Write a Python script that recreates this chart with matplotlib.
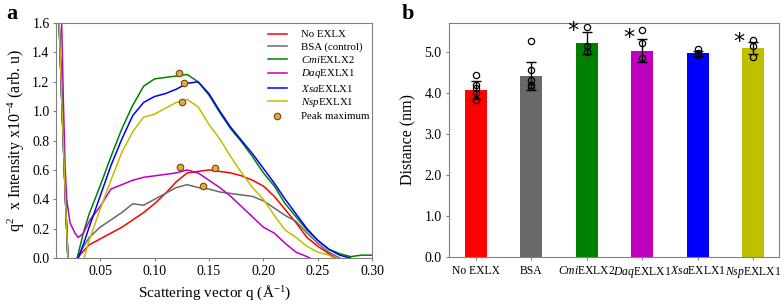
import matplotlib
matplotlib.use("Agg")
import matplotlib.pyplot as plt
import numpy as np

plt.rcParams['font.family'] = ['Liberation Serif', 'DejaVu Serif']
plt.rcParams['mathtext.fontset'] = 'custom'
plt.rcParams['mathtext.rm'] = 'Liberation Serif'
plt.rcParams['mathtext.it'] = 'Liberation Serif:italic'

# ---------------- Panel a data ----------------
q_left = [0.0100, 0.0125, 0.0150, 0.0180, 0.0205, 0.0240]
y_left = [3.0, 1.6, 1.05, 0.45, 0.0, -0.05]

q_main = [0.029, 0.035, 0.04, 0.05, 0.06, 0.07, 0.08, 0.09, 0.10, 0.11, 0.12, 0.13,
          0.14, 0.15, 0.16, 0.17, 0.18, 0.19, 0.20, 0.21, 0.22, 0.23, 0.24, 0.25,
          0.26, 0.27, 0.28, 0.29, 0.30]

red_y = [0.0, 0.05, 0.09, 0.13, 0.17, 0.21, 0.26, 0.31, 0.37, 0.44, 0.52, 0.58,
         0.59, 0.60, 0.59, 0.58, 0.56, 0.53, 0.49, 0.42, 0.33, 0.24, 0.14, 0.08,
         0.03, -0.02, -0.05, -0.05, -0.05]
gray_y = [0.0, 0.08, 0.14, 0.21, 0.26, 0.31, 0.37, 0.36, 0.40, 0.44, 0.48, 0.50,
          0.48, 0.47, 0.45, 0.44, 0.43, 0.42, 0.39, 0.34, 0.29, 0.25, 0.17, 0.10,
          0.04, 0.0, -0.05, -0.05, -0.05]
green_y = [0.0, 0.18, 0.30, 0.49, 0.69, 0.88, 1.04, 1.17, 1.22, 1.23, 1.24, 1.25,
           1.20, 1.11, 0.99, 0.88, 0.79, 0.69, 0.58, 0.49, 0.37, 0.28, 0.19, 0.12,
           0.06, 0.03, 0.01, 0.02, 0.02]
blue_y = [-0.02, 0.10, 0.21, 0.42, 0.63, 0.81, 0.97, 1.06, 1.10, 1.12, 1.15, 1.19,
          1.20, 1.12, 1.00, 0.89, 0.80, 0.71, 0.61, 0.51, 0.40, 0.30, 0.20, 0.12,
          0.06, 0.02, 0.0, -0.05, -0.05]
yellow_y = [-0.05, -0.01, 0.12, 0.33, 0.53, 0.72, 0.86, 0.96, 0.98, 1.02, 1.06, 1.08,
            1.03, 0.91, 0.81, 0.69, 0.58, 0.48, 0.40, 0.29, 0.19, 0.14, 0.08, 0.04,
            0.02, -0.02, -0.05, -0.05, -0.05]

q_daq = [0.0100, 0.0148, 0.0163, 0.0179, 0.0194, 0.0225, 0.027, 0.0300, 0.0347,
         0.0408, 0.05, 0.06, 0.07, 0.08, 0.09, 0.10, 0.11, 0.12, 0.13, 0.14, 0.15,
         0.16, 0.17, 0.18, 0.19, 0.20, 0.21, 0.22, 0.23, 0.24, 0.25, 0.26]
daq_y = [3.0, 1.6, 1.08, 0.63, 0.40, 0.24, 0.17, 0.14, 0.17, 0.26, 0.35, 0.47,
         0.50, 0.53, 0.55, 0.56, 0.57, 0.58, 0.60, 0.58, 0.53, 0.48, 0.42, 0.35,
         0.28, 0.21, 0.17, 0.10, 0.04, 0.01, -0.03, -0.05]

peak_q = [0.1226, 0.1273, 0.1250, 0.1235, 0.1555, 0.1442]
peak_y = [1.257, 1.193, 1.062, 0.619, 0.615, 0.493]

# ---------------- Panel b data ----------------
groups = ['No EXLX', 'BSA', r'$\mathit{Cmi}$EXLX2', r'$\mathit{Daq}$EXLX1',
          r'$\mathit{Xsa}$EXLX1', r'$\mathit{Nsp}$EXLX1']
means = [4.06, 4.41, 5.21, 5.03, 4.97, 5.09]
errs = [0.22, 0.35, 0.27, 0.29, 0.06, 0.14]
points = [[4.43, 4.20, 4.12, 4.00, 3.83],
          [5.27, 4.56, 4.32, 4.18, 4.13],
          [5.60, 5.13, 5.00],
          [5.54, 5.21, 4.85],
          [5.06, 4.96, 4.93],
          [5.28, 5.13, 4.88]]
signif = [False, False, True, True, False, True]

colors = ['#ff0000', '#696969', '#008000', '#bf00bf', '#0000ff', '#bfbf00']
legend_labels = ['No EXLX', 'BSA (control)', r'$\mathit{Cmi}$EXLX2',
                 r'$\mathit{Daq}$EXLX1', r'$\mathit{Xsa}$EXLX1', r'$\mathit{Nsp}$EXLX1']

fig = plt.figure(figsize=(7.84, 3.04), dpi=100)
axa = fig.add_axes([0.072, 0.151, 0.403, 0.773])
axb = fig.add_axes([0.573, 0.155, 0.421, 0.769])

frame_col = '#808080'

# Panel a
curves = [
    (q_left + q_main, y_left + red_y),
    (q_left + q_main, y_left + gray_y),
    (q_left + q_main, y_left + green_y),
    (q_daq, daq_y),
    (q_left + q_main, y_left + blue_y),
    (q_left + q_main, y_left + yellow_y),
]
for (qq, yy), c, lab in zip(curves, colors, legend_labels):
    axa.plot(qq, yy, color=c, lw=1.1, label=lab)
axa.scatter(peak_q, peak_y, s=22, color='#e8a838', edgecolor='#6b4a1a',
            linewidth=0.8, zorder=5, label='Peak maximum')
axa.set_xlim(0.010, 0.30)
axa.set_ylim(0, 1.6)
axa.set_xticks([0.05, 0.10, 0.15, 0.20, 0.25, 0.30])
axa.set_xticklabels(['%.2f' % v for v in [0.05, 0.10, 0.15, 0.20, 0.25, 0.30]])
axa.set_yticks(np.arange(0, 1.61, 0.2))
axa.set_yticklabels(['%.1f' % v for v in np.arange(0, 1.61, 0.2)])
axa.tick_params(labelsize=10, length=2, color=frame_col, pad=3)
for s in axa.spines.values():
    s.set_color(frame_col)
axa.set_xlabel(r'Scattering vector q ($\mathrm{\AA}^{-1}$)', fontsize=11, labelpad=4)
axa.set_ylabel(r'q$^2$  x Intensity x10$^{-4}$ (arb. u)', fontsize=11.5, labelpad=4)
axa.legend(loc='upper right', bbox_to_anchor=(1.0, 0.985), frameon=False,
           fontsize=7.8, handlelength=1.75, handletextpad=1.3, labelspacing=0.22,
           borderaxespad=0.0, borderpad=0.3)
fig.text(0.008, 0.955, 'a', fontsize=16, fontweight='bold', va='center')

# Panel b
x = np.arange(len(groups))
axb.bar(x, means, width=0.4, color=colors)
axb.errorbar(x, means, yerr=errs, fmt='none', ecolor='black', elinewidth=1,
             capsize=3.5, capthick=1)
for xi, pts in zip(x, points):
    axb.plot([xi] * len(pts), pts, 'o', mfc='none', mec='black', ms=4.5, mew=0.9)
for xi, m, e, sg in zip(x, means, errs, signif):
    if sg:
        axb.text(xi - 0.25, m + e + 0.02, '*', fontsize=16, ha='center', va='center',
                 family='DejaVu Sans')
axb.set_xlim(-0.48, 5.47)
axb.set_ylim(0, 5.7)
axb.set_xticks(x)
axb.set_xticklabels(groups)
axb.set_yticks(np.arange(0, 5.1, 1.0))
axb.set_yticklabels(['%.1f' % v for v in np.arange(0, 5.1, 1.0)])
axb.tick_params(axis='y', labelsize=10, length=2, color=frame_col)
axb.tick_params(axis='x', labelsize=8.4, length=2, color=frame_col)
for s in axb.spines.values():
    s.set_color(frame_col)
axb.set_ylabel('Distance (nm)', fontsize=11.5, labelpad=6)
fig.text(0.512, 0.955, 'b', fontsize=16, fontweight='bold', va='center')

fig.savefig('out.png', dpi=100)
